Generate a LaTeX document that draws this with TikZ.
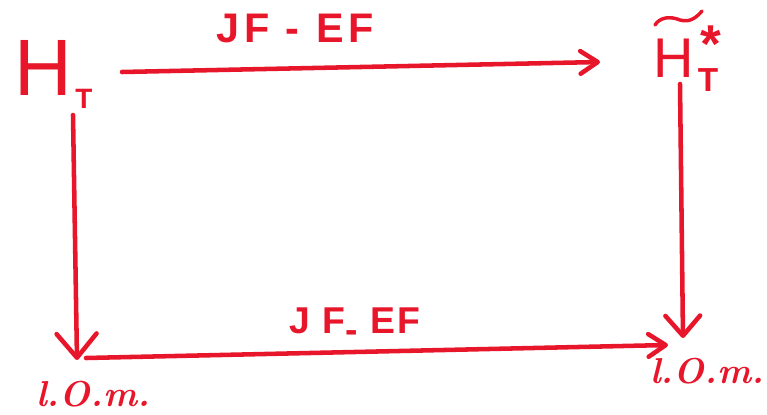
\documentclass[tikz,border=0pt]{standalone}
\usepackage{fontspec}
\setmainfont{Liberation Sans}
\newfontfamily\lomfont{Latin Modern Roman}
\usetikzlibrary{arrows.meta}
\definecolor{ink}{RGB}{232,22,42}
\begin{document}
\begin{tikzpicture}[x=0.75pt,y=-0.75pt,
  stroke/.style={draw=ink, line width=3.4pt, line cap=round, line join=round},
  lbl/.style={text=ink, inner sep=0pt},
  lom/.style={lbl, font=\lomfont\bfseries\itshape\fontsize{27}{27}\selectfont},
  bigtip/.style={-{Straight Barb[length=18pt,width=30pt,line cap=round,line join=round]}},
  midtip/.style={-{Straight Barb[length=15pt,width=26pt,line cap=round,line join=round]}},
  smalltip/.style={-{Straight Barb[length=13pt,width=17pt,line cap=round,line join=round]}}]
\useasboundingbox (0,0) rectangle (767,414);

% corner labels
\node[lbl, font=\fontsize{60}{60}\selectfont] (HT) at (43,68) {H};
\node[lbl, font=\bfseries\fontsize{21}{21}\selectfont] (HTsub) at (84,99) {T};

\node[lbl, anchor=south, font=\fontsize{42}{42}\selectfont] (Hs) at (674,78) {H};
\draw[draw=ink, line width=2.6pt, line cap=round]
  (655,25) .. controls (660,17) and (670,16) .. (680,20)
           .. controls (690,23) and (697,17) .. (702,11);
\node[lbl, anchor=north, font=\bfseries\fontsize{40}{40}\selectfont] (Hstar) at (711,26) {*};
\node[lbl, font=\bfseries\fontsize{25}{25}\selectfont] (Hssub) at (708,80) {T};

\node[lom] (lomL) at (93,394) {l.O.m.};
\node[lom] (lomR) at (707,371) {l.O.m.};

% arrow labels
\node[lbl, font=\bfseries\fontsize{31}{31}\selectfont\addfontfeature{LetterSpace=12}] (topl) at (295,28) {JF - EF};
\node[lbl, font=\bfseries\fontsize{28}{28}\selectfont\addfontfeature{LetterSpace=6}] (botl) at (355,325) {J F\raisebox{-0.25em}{-} EF};

% arrow end points
\coordinate (tA) at (122,72);
\coordinate (tB) at (600,62);
\coordinate (lA) at (73,115);
\coordinate (lB) at (77,360);
\coordinate (rA) at (680,84);
\coordinate (rB) at (683,338);
\coordinate (bA) at (86,358);
\coordinate (bB) at (668,345);

% arrows
\draw[stroke, smalltip] (tA) -- (tB);
\draw[stroke, bigtip] (lA) -- (lB);
\draw[stroke, midtip] (rA) -- (rB);
\draw[stroke, smalltip] (bA) -- (bB);
\end{tikzpicture}
\end{document}
